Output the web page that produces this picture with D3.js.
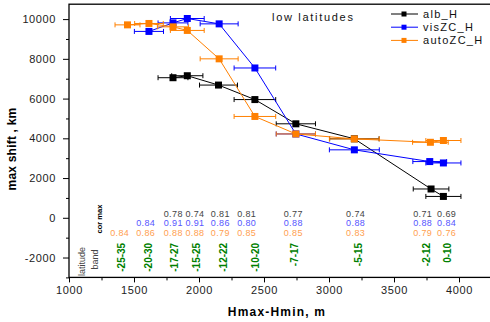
<!DOCTYPE html>
<html>
<head>
<meta charset="utf-8">
<script src="https://d3js.org/d3.v7.min.js"></script>
<style>
  body { margin: 0; background: #fff; }
  svg { display: block; font-family: Arial, "Liberation Sans", sans-serif; }
</style>
</head>
<body>
<div id="chart"></div>
<script>
// series: x = Hmax-Hmin (m), y = max shift (km), err = half width of x error bar
var albX = [1800, 1910, 2150, 2430, 2745, 3195, 3785, 3880];
var albY = [7050, 7150, 6680, 5950, 4730, 3975, 1450, 1075];
var albErr = [115, 120, 146, 160, 151, 190, 137, 135];

var visX = [1615, 1800, 1910, 2155, 2430, 2745, 3195, 3775, 3880];
var visY = [9380, 9810, 10030, 9760, 7540, 4220, 3420, 2830, 2760];
var visErr = [112, 115, 130, 146, 160, 151, 192, 130, 135];

var autoX = [1450, 1615, 1800, 1910, 2155, 2430, 2745, 3195, 3780, 3880];
var autoY = [9710, 9780, 9610, 9430, 8000, 5100, 4220, 3970, 3800, 3890];
var autoErr = [96, 110, 120, 130, 146, 160, 151, 192, 137, 135];

// latitude bands and max correlations written under the curves
var bandLabels = ["-25-35", "-20-30", "-17-27", "-15-25", "-12-22", "-10-20", "-7-17", "-5-15", "-2-12", "0-10"];
var bandX = [1405, 1610, 1815, 1982, 2187, 2436, 2738, 3225, 3751, 3910];
var corX = [1390, 1590, 1802, 1969, 2164, 2367, 2725, 3205, 3721, 3905];
var corAlb = [null, null, 0.78, 0.74, 0.81, 0.81, 0.77, 0.74, 0.71, 0.69];
var corVis = [null, 0.84, 0.91, 0.91, 0.86, 0.80, 0.88, 0.88, 0.88, 0.84];
var corAuto = [0.84, 0.86, 0.88, 0.88, 0.79, 0.85, 0.85, 0.83, 0.79, 0.76];

var xTicks = [1000, 1500, 2000, 2500, 3000, 3500, 4000];
var yTicks = [-2000, 0, 2000, 4000, 6000, 8000, 10000];

var width = 490, height = 322;
var svg = d3.select("#chart").append("svg")
   .attr("width", width)
   .attr("height", height);

var x = d3.scaleLinear().domain([1000, 4250]).range([69, 491.5]);
var y = d3.scaleLinear().domain([-3000, 10750]).range([277.4, 4.2]);

// frame (right side falls outside the picture)
svg.append("rect")
   .attr("x", x(1000)).attr("y", y(10750))
   .attr("width", x(4250) - x(1000)).attr("height", y(-3000) - y(10750))
   .attr("fill", "none").attr("stroke", "#000").attr("stroke-width", 1.3);

// x axis
var xAxis = svg.append("g").attr("transform", "translate(0," + y(-3000) + ")")
   .call(d3.axisBottom(x).tickValues(d3.range(1000, 4251, 250)).tickSize(3).tickFormat(""));
xAxis.selectAll(".tick line").attr("y2", function (d) { return d % 500 == 0 ? 5 : 3; });
xAxis.select(".domain").remove();
svg.selectAll(".xlab").data(xTicks).enter().append("text")
   .attr("x", function (d) { return x(d) + 0.5; })
   .attr("y", 293.5)
   .attr("text-anchor", "middle")
   .attr("font-size", 11).attr("letter-spacing", 0.6)
   .attr("fill", "#222")
   .text(function (d) { return d; });

// y axis
var yAxis = svg.append("g").attr("transform", "translate(" + x(1000) + ",0)")
   .call(d3.axisLeft(y).tickValues(d3.range(-3000, 10001, 1000)).tickSize(3).tickFormat(""));
yAxis.selectAll(".tick line").attr("x2", function (d) { return d % 2000 == 0 ? -6 : -3; });
yAxis.select(".domain").remove();
svg.selectAll(".ylab").data(yTicks).enter().append("text")
   .attr("x", 56)
   .attr("y", function (d) { return y(d) + 4; })
   .attr("text-anchor", "end")
   .attr("font-size", 11).attr("letter-spacing", 0.6)
   .attr("fill", "#222")
   .text(function (d) { return d; });

// axis titles
svg.append("text")
   .attr("x", 277).attr("y", 316)
   .attr("text-anchor", "middle")
   .attr("font-size", 12).attr("font-weight", "bold").attr("letter-spacing", 1.2)
   .text("Hmax-Hmin, m");
svg.append("text")
   .attr("transform", "translate(12,149) rotate(-90)")
   .attr("dy", "0.35em")
   .attr("text-anchor", "middle")
   .attr("font-size", 12).attr("font-weight", "bold").attr("letter-spacing", 0.2)
   .text("max shift , km");

function draw_series(xs, ys, errs, color) {
   var pts = xs.map(function (d, i) { return {x: d, y: ys[i], e: errs[i]}; });
   var g = svg.append("g");
   g.append("path")
      .datum(pts)
      .attr("fill", "none").attr("stroke", color).attr("stroke-width", 1)
      .attr("d", d3.line().x(function (d) { return x(d.x); }).y(function (d) { return y(d.y); }));
   var bars = g.selectAll(".eb").data(pts).enter().append("g");
   bars.append("line")
      .attr("x1", function (d) { return x(d.x - d.e); })
      .attr("x2", function (d) { return x(d.x + d.e); })
      .attr("y1", function (d) { return y(d.y); })
      .attr("y2", function (d) { return y(d.y); })
      .attr("stroke", color).attr("stroke-width", 1);
   [-1, 1].forEach(function (s) {
      bars.append("line")
         .attr("x1", function (d) { return x(d.x + s * d.e); })
         .attr("x2", function (d) { return x(d.x + s * d.e); })
         .attr("y1", function (d) { return y(d.y) - 2.5; })
         .attr("y2", function (d) { return y(d.y) + 2.5; })
         .attr("stroke", color).attr("stroke-width", 1);
   });
   g.selectAll(".mk").data(pts).enter().append("rect")
      .attr("x", function (d) { return x(d.x) - 3.5; })
      .attr("y", function (d) { return y(d.y) - 3.5; })
      .attr("width", 7).attr("height", 7)
      .attr("fill", color);
}

draw_series(albX, albY, albErr, "#000000");
draw_series(visX, visY, visErr, "#0000ff");
draw_series(autoX, autoY, autoErr, "#ff8000");

// title and legend
svg.append("text")
   .attr("x", 272).attr("y", 20.5)
   .attr("font-size", 11).attr("letter-spacing", 1.7)
   .attr("fill", "#111")
   .text("low latitudes");

var legNames = ["alb_H", "visZC_H", "autoZC_H"];
var legColors = ["#000000", "#0000ff", "#ff8000"];
var leg = svg.selectAll(".leg").data(legNames).enter().append("g")
   .attr("transform", function (d, i) { return "translate(0," + (14 + i * 13.2) + ")"; });
leg.append("line")
   .attr("x1", 391).attr("x2", 418).attr("y1", 0).attr("y2", 0)
   .attr("stroke", function (d, i) { return legColors[i]; });
leg.append("rect")
   .attr("x", 401.5).attr("y", -2.5).attr("width", 5).attr("height", 5)
   .attr("fill", function (d, i) { return legColors[i]; });
leg.append("text")
   .attr("x", 423).attr("y", 4)
   .attr("font-size", 11).attr("letter-spacing", 1.3)
   .attr("fill", "#111")
   .text(function (d) { return d; });

// correlation rows
function cor_row(vals, yval, color) {
   svg.selectAll(null).data(vals.map(function (v, i) { return {v: v, x: corX[i]}; })
         .filter(function (d) { return d.v != null; }))
      .enter().append("text")
      .attr("x", function (d) { return x(d.x); })
      .attr("y", y(yval) + 3.5)
      .attr("text-anchor", "middle")
      .attr("font-size", 9).attr("letter-spacing", 0.4)
      .attr("fill", color)
      .text(function (d) { return d.v.toFixed(2); });
}
cor_row(corAlb, 240, "#444444");
cor_row(corVis, -250, "#5555ff");
cor_row(corAuto, -740, "#ffa050");

// latitude band labels
svg.selectAll(".band").data(bandLabels).enter().append("text")
   .attr("transform", function (d, i) { return "translate(" + x(bandX[i]) + "," + y(-1260) + ") rotate(-90)"; })
   .attr("dy", "0.35em")
   .attr("text-anchor", "end")
   .attr("font-size", 10).attr("font-weight", "bold")
   .attr("fill", "#008000")
   .text(function (d) { return d; });

// left side captions
svg.append("text")
   .attr("transform", "translate(81.7,276) rotate(-90)")
   .attr("dy", "0.35em")
   .attr("font-size", 9).attr("fill", "#444")
   .text("latitude");
svg.append("text")
   .attr("transform", "translate(95,269.5) rotate(-90)")
   .attr("dy", "0.35em")
   .attr("font-size", 9).attr("fill", "#444")
   .text("band");
svg.append("text")
   .attr("transform", "translate(99.5,219) rotate(-90)")
   .attr("dy", "0.35em")
   .attr("text-anchor", "middle")
   .attr("font-size", 7.5).attr("font-weight", "bold")
   .text("cor max");
</script>
</body>
</html>
